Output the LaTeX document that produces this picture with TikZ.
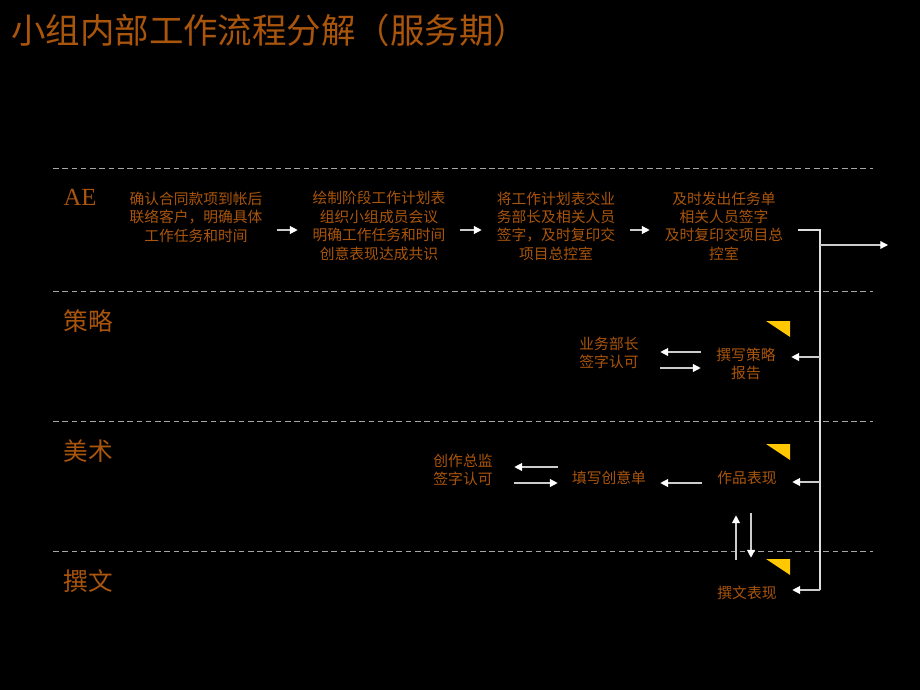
\documentclass[tikz,border=0pt]{standalone}
\usepackage{fontspec}
\setmainfont{Liberation Serif}
\newfontfamily\cjk{Noto Sans CJK SC}
\usetikzlibrary{arrows.meta,calc}
\definecolor{rust}{RGB}{170,85,12}
\definecolor{flagyellow}{RGB}{255,200,0}
\tikzset{
    task/.style={text=rust, font=\cjk\fontsize{10.5}{13.1}\selectfont, align=center, inner sep=0pt},
    lanename/.style={text=rust, font=\cjk\fontsize{17.5}{20}\selectfont, inner sep=0pt},
    lane/.style={gray!70, line width=0.7pt, dash pattern=on 4pt off 2.6pt},
    arr/.style={gray!40, line width=0.9pt, -{Triangle[length=5.5pt,width=5.5pt,color=white]}},
    bus/.style={gray!25, line width=0.9pt}
}
\begin{document}
\begin{tikzpicture}[x=0.025cm,y=-0.025cm]
    \fill[black] (0,0) rectangle (920,690);
    \useasboundingbox (0,0) rectangle (920,690);
    \node[text=rust, font=\cjk\fontsize{24.5}{28}\selectfont, anchor=west, inner sep=0pt] (title) at (11,30) {小组内部工作流程分解（服务期）};
    \foreach \y in {168,291,421,551}
        \draw[lane] (53,\y) -- (873,\y);
    \node[lanename, font=\fontsize{17.5}{20}\selectfont] (ae) at (80,197) {AE};
    \node[lanename] (celue) at (88,321) {策略};
    \node[lanename] (meishu) at (88,451) {美术};
    \node[lanename] (zhuanwen) at (88,581) {撰文};
    \node[task, minimum width=4.05cm] (n1) at (196,217) {确认合同款项到帐后\\联络客户，明确具体\\工作任务和时间};
    \node[task, minimum width=4.05cm] (n2) at (379,226) {绘制阶段工作计划表\\组织小组成员会议\\明确工作任务和时间\\创意表现达成共识};
    \node[task, minimum width=3.7cm] (n3) at (556,226) {将工作计划表交业\\务部长及相关人员\\签字，及时复印交\\项目总控室};
    \node[task, minimum width=3.7cm] (n4) at (724,226) {及时发出任务单\\相关人员签字\\及时复印交项目总\\控室};
    \node[task, minimum width=2.25cm] (s1) at (746,364) {撰写策略\\报告};
    \node[task, minimum width=2.55cm] (m1) at (609,353) {业务部长\\签字认可};
    \node[task, minimum width=2.25cm, minimum height=1.75cm] (a1) at (747,478) {作品表现};
    \node[task, minimum width=2.55cm] (c1) at (609,478) {填写创意单};
    \node[task, minimum width=2.55cm] (d1) at (463,470) {创作总监\\签字认可};
    \node[task, minimum width=2.25cm, minimum height=1.65cm] (w1) at (747,593) {撰文表现};
    \foreach \y in {321,444,559}
        \fill[flagyellow] (766,\y) -- (790,\y) -- (790,\y+16) -- cycle;
    \coordinate (aeline) at (0,230);
    \coordinate (bustop) at (820,230);
    \coordinate (busbot) at (820,590);
    \coordinate (out) at (888,245);
    \coordinate (b1) at (820,357);
    \coordinate (b2) at (820,482);
    \draw[arr] (n1.east |- aeline) -- (n2.west |- aeline);
    \draw[arr] (n2.east |- aeline) -- (n3.west |- aeline);
    \draw[arr] (n3.east |- aeline) -- (n4.west |- aeline);
    \draw[bus] (n4.east |- aeline) -- (bustop) -- (busbot);
    \draw[arr] (bustop |- out) -- (out);
    \draw[arr] (b1) -- (b1 -| s1.east);
    \draw[arr] (b2) -- (b2 -| a1.east);
    \draw[arr] (busbot) -- (busbot -| w1.east);
    \draw[arr] ($(s1.west)+(0,-12)$) -- ($(m1.east)+(0,-1)$);
    \draw[arr] ($(m1.east)+(0,15)$) -- ($(s1.west)+(0,4)$);
    \draw[arr] ($(a1.west)+(0,5)$) -- ($(c1.east)+(0,5)$);
    \draw[arr] ($(c1.west)+(0,-11)$) -- ($(d1.east)+(0,-3)$);
    \draw[arr] ($(d1.east)+(0,13)$) -- ($(c1.west)+(0,5)$);
    \draw[arr] ($(w1.north)+(-11,0)$) -- ($(a1.south)+(-11,2)$);
    \draw[arr] ($(a1.south)+(4,0)$) -- ($(w1.north)+(4,-2)$);
\end{tikzpicture}
\end{document}
